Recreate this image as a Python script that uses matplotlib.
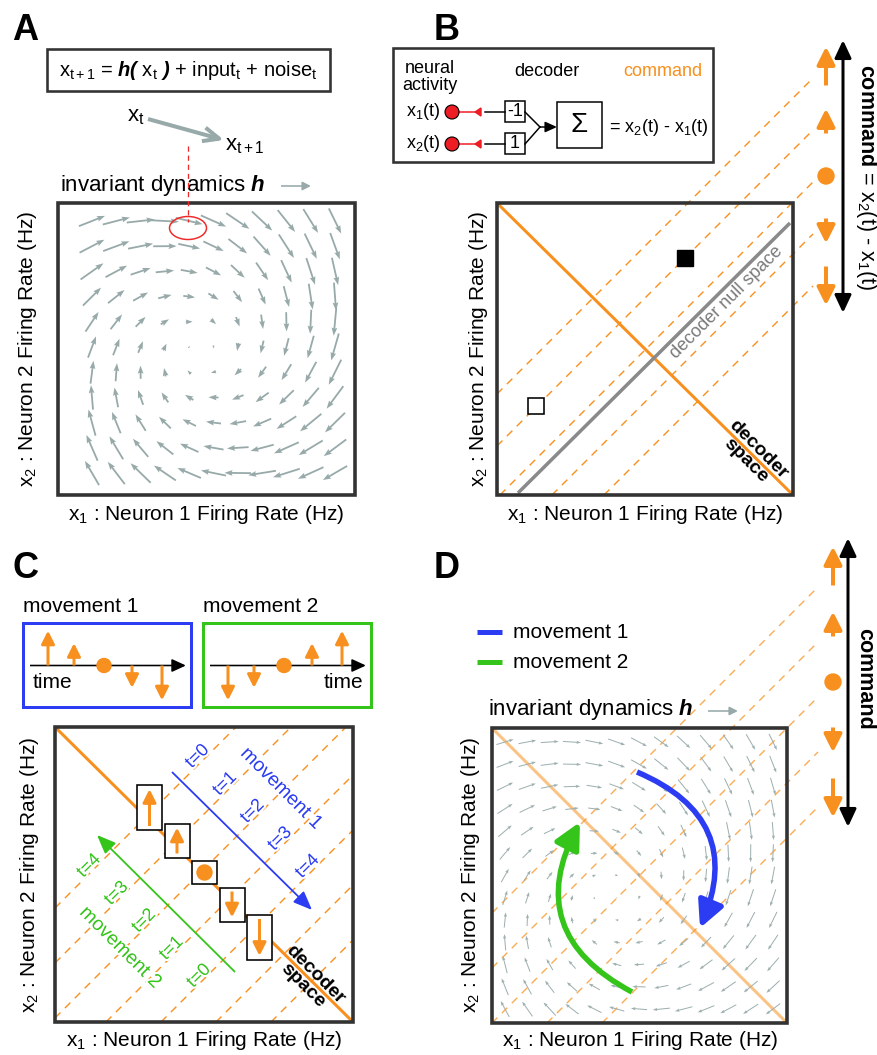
import numpy as np
import matplotlib.pyplot as plt
from matplotlib.patches import Rectangle, Circle, Ellipse, FancyArrowPatch, Polygon
import matplotlib.patheffects as pe

plt.rcParams['font.family'] = ['Liberation Sans', 'DejaVu Sans']
plt.rcParams['mathtext.fontset'] = 'custom'
plt.rcParams['mathtext.rm'] = 'Liberation Sans'
plt.rcParams['mathtext.it'] = 'Liberation Sans:italic'
plt.rcParams['mathtext.bf'] = 'Liberation Sans:bold'
plt.rcParams['mathtext.bfit'] = 'Liberation Sans:italic:bold'

ORANGE = '#f7901e'
BLUE = '#2b3cf2'
GREEN = '#34c41a'
FIELD = '#97a9a9'
FRAME = '#333333'

# ---- chart data ----
command_levels = [2, 1, 0, -1, -2]          # decoded command shown on the right
move1_commands = [2, 1, 0, -1, -2]          # movement 1, t = 0..4
move2_commands = [-2, -1, 0, 1, 2]          # movement 2, t = 0..4
time_steps = [0, 1, 2, 3, 4]
decoder_weights = ['-1', '1']
neuron_labels = ['x$_1$(t)', 'x$_2$(t)']
c_extra_levels = [-3, -4]                   # additional iso-command lines in panel C
spiral_angle = 18                           # inward turn of the dynamics (deg)

XLAB = 'x$_1$ : Neuron 1 Firing Rate (Hz)'
YLAB = 'x$_2$ : Neuron 2 Firing Rate (Hz)'

fig = plt.figure(figsize=(8.77, 10.55), dpi=100)
ax = fig.add_axes([0, 0, 1, 1])
ax.set_xlim(0, 877)
ax.set_ylim(1055, 0)
ax.axis('off')

PT = 0.72  # pixels -> points


def arrow(p0, p1, color, lw, hl, hw, style='-|>', z=4, rad=None):
    st = f'{style},head_length={hl * PT},head_width={hw * PT / 2}'
    kw = dict(arrowstyle=st, mutation_scale=1, color=color, lw=lw * PT,
              shrinkA=0, shrinkB=0, zorder=z, capstyle='butt')
    if rad is not None:
        kw['connectionstyle'] = f'arc3,rad={rad}'
    ax.add_patch(FancyArrowPatch(p0, p1, **kw))


def frame(L, T, R, B, lw=3.6, color=FRAME, z=5, fc='none'):
    ax.add_patch(Rectangle((L, T), R - L, B - T, fill=(fc != 'none'), fc=fc,
                           ec=color, lw=lw * PT, zorder=z))


def h(X, Y, center, gain, cap):
    # invariant dynamics: clockwise rotation with a slight inward turn
    dx, dy = X - center[0], Y - center[1]
    a = np.deg2rad(spiral_angle)
    U = gain * (-dy * np.cos(a) - dx * np.sin(a))
    V = gain * (dx * np.cos(a) - dy * np.sin(a))
    sp = np.hypot(U, V)
    k = np.minimum(1.0, cap / np.maximum(sp, 1e-9))
    return U * k, V * k


def field(xs, ys, center, gain, cap, width, color):
    X, Y = np.meshgrid(xs, ys)
    U, V = h(X, Y, center, gain, cap)
    ax.quiver(X, Y, U, V, angles='xy', scale_units='xy', scale=1, pivot='mid',
              units='xy', width=width, headwidth=3.2, headlength=4.5,
              headaxislength=4.0, color=color, zorder=3)


def iso_line(c, box, x_end=None):
    L, T, R, B = box
    xa = max(L, c - B)
    xb = min(R, c - T) if x_end is None else x_end
    return [xa, xb], [c - xa, c - xb]


def dashed(xs, ys, color=ORANGE, alpha=1.0, z=2):
    ax.plot(xs, ys, color=color, lw=1.4 * PT, alpha=alpha,
            dashes=(5.5, 4.5), zorder=z)


def cmd_column(x, y_mid, step, ax_x, ax_top, ax_bot):
    for lev in command_levels:
        yc = y_mid - step * lev
        if lev == 0:
            ax.add_patch(Circle((x, yc), 8, color=ORANGE, zorder=5))
            continue
        ln = 11 + 14 * abs(lev)
        s = 1 if lev > 0 else -1
        arrow((x, yc + s * ln / 2), (x, yc - s * ln / 2), ORANGE, 4, 15, 15)
    arrow((ax_x, ax_bot), (ax_x, ax_top), 'black', 3, 15, 14, style='<|-|>')


# =====================================================================
# Panel A
# =====================================================================
ax.text(25, 30, 'A', fontsize=26, fontweight='bold', ha='center', va='center')
frame(47, 49, 330, 91, lw=2.6)
ax.text(188, 70, r'x$_\mathrm{t+1}$ = $\mathbfit{h(}$ x$_\mathrm{t}$ $\mathbfit{)}$ + input$_\mathrm{t}$ + noise$_\mathrm{t}$',
        fontsize=14.5, ha='center', va='center')
ax.text(136, 117, r'x$_\mathrm{t}$', fontsize=16, ha='center', va='center')
ax.text(245, 146, r'x$_\mathrm{t+1}$', fontsize=16, ha='center', va='center')
arrow((148, 119), (224, 140), FIELD, 4, 16, 14, style='->')
ax.plot([188, 188], [146, 222], color='#ee2b2b', lw=1.3 * PT, dashes=(4, 3), zorder=6)
ax.text(60, 185, r'invariant dynamics $\mathbfit{h}$', fontsize=16, ha='left', va='center')
arrow((281, 186), (311, 186), FIELD, 1.6, 7, 7)

A_box = (58, 203, 355, 495)
frame(*A_box)
field(np.linspace(92, 335, 11), np.linspace(221, 473, 11), (200, 352), 0.21, 28, 1.8, FIELD)
ax.add_patch(Ellipse((188, 228), 37, 23, fill=False, ec='#ee2b2b', lw=1.5 * PT, zorder=6))
ax.text(206, 514, XLAB, fontsize=15, ha='center', va='center')
ax.text(28, 349, YLAB, fontsize=15, ha='center', va='center', rotation=90)

# =====================================================================
# Panel B
# =====================================================================
ax.text(447, 30, 'B', fontsize=26, fontweight='bold', ha='center', va='center')
frame(393, 48, 713, 162, lw=2.6)
ax.text(430, 77, 'neural\nactivity', fontsize=13, ha='center', va='center', linespacing=1.0)
ax.text(547, 71, 'decoder', fontsize=13, ha='center', va='center')
ax.text(663, 71, 'command', fontsize=13, ha='center', va='center', color=ORANGE)
for i, (lab, w) in enumerate(zip(neuron_labels, decoder_weights)):
    y = 112 + 32 * i
    ax.text(441, y, lab, fontsize=13, ha='right', va='center')
    ax.add_patch(Circle((452, y), 7, fc='#ee1c24', ec='black', lw=0.8, zorder=5))
    ax.plot([459, 478], [y, y], color='#ee1c24', lw=1.5 * PT, zorder=4)
    ax.add_patch(Polygon([(475, y), (481, y - 4), (481, y + 4)], color='#ee1c24', zorder=5))
    ax.plot([485, 505], [y, y], color='black', lw=1.5 * PT, zorder=4)
    frame(505, y - 11, 525, y + 10, lw=1.5, color='black')
    ax.text(515, y, w, fontsize=13, ha='center', va='center')
    ax.plot([525, 540], [y, 127], color='black', lw=1.5 * PT, zorder=4)
arrow((539, 127), (557, 127), 'black', 1.5, 10, 9)
frame(557, 102, 602, 148, lw=1.5, color='black')
ax.text(579.5, 125, r'$\Sigma$', fontsize=20, ha='center', va='center')
ax.text(609, 127, '= x$_2$(t) - x$_1$(t)', fontsize=13, ha='left', va='center')

B_box = (497, 203, 793, 495)
for lev in command_levels:
    xs, ys = iso_line(995 - 52 * lev, B_box, x_end=813)
    dashed(xs, ys)
ax.plot([497, 793], [203, 495], color=ORANGE, lw=3 * PT, zorder=3, solid_capstyle='butt')
ax.plot([518, 790], [493, 223], color='#8a8a8a', lw=3.5 * PT, zorder=3, solid_capstyle='butt')
ax.add_patch(Rectangle((677, 250), 16, 16, color='black', zorder=5))
ax.add_patch(Rectangle((528, 398), 16, 16, fc='white', ec='black', lw=1.6 * PT, zorder=5))
frame(*B_box)
ax.text(727, 302, 'decoder null space', fontsize=13, color='#7a7a7a', rotation=45,
        ha='center', va='center', rotation_mode='anchor')
ax.text(752, 455, 'decoder\nspace', fontsize=14, fontweight='bold', rotation=-45,
        ha='center', va='center', rotation_mode='anchor', linespacing=0.95)
cmd_column(826, 176, 55, 843, 40, 313)
ax.text(866, 177, r'$\mathbf{command}$ = x$_2$(t) - x$_1$(t)', fontsize=15.5,
        rotation=-90, ha='center', va='center')
ax.text(645, 514, XLAB, fontsize=15, ha='center', va='center')
ax.text(478, 349, YLAB, fontsize=15, ha='center', va='center', rotation=90)

# =====================================================================
# Panel C
# =====================================================================
ax.text(25, 569, 'C', fontsize=26, fontweight='bold', ha='center', va='center')
stem_offsets = [25, 51, 81, 109, 139]
for (L, color, cmds, name, tx, tha) in [(23, BLUE, move1_commands, 'movement 1', 33, 'left'),
                                        (203, GREEN, move2_commands, 'movement 2', 363, 'right')]:
    ax.text(L, 607, name, fontsize=15, ha='left', va='center')
    frame(L, 623, L + 168, 707, lw=3, color=color)
    arrow((L + 7, 665.5), (L + 163, 665.5), 'black', 1.6, 12, 11)
    ax.text(tx, 683, 'time', fontsize=15, ha=tha, va='center')
    for off, cmd in zip(stem_offsets, cmds):
        x = L + off
        if cmd == 0:
            ax.add_patch(Circle((x, 665.5), 7, color=ORANGE, zorder=5))
        else:
            ln = 10 + 12.5 * abs(cmd)
            arrow((x, 665.5), (x, 665.5 - np.sign(cmd) * ln), ORANGE, 3, 11, 11)

C_box = (55, 727, 353, 1022)
for lev in command_levels + c_extra_levels:
    xs, ys = iso_line(1073 - 55 * lev, C_box)
    dashed(xs, ys)
ax.plot([55, 353], [727, 1022], color=ORANGE, lw=3 * PT, zorder=3, solid_capstyle='butt')
for lev in command_levels:
    c = 1073 - 55 * lev
    xi, yi = (c - 672) / 2 + 4, (c + 672) / 2
    hgt = 23 + 11 * abs(lev)
    yc = yi - np.sign(lev) * (hgt - 25) / 2
    frame(xi - 12.5, yc - hgt / 2, xi + 12.5, yc + hgt / 2, lw=1.6, color='black', z=6, fc='white')
    if lev == 0:
        ax.add_patch(Circle((xi, yc), 7.5, color=ORANGE, zorder=7))
    else:
        s = np.sign(lev)
        arrow((xi, yc + s * (hgt / 2 - 4)), (xi, yc - s * (hgt / 2 - 4)), ORANGE, 3, 11, 11, z=7)

arrow((172, 772), (312, 910), BLUE, 1.8, 16, 13)
arrow((235, 972), (97, 835), GREEN, 1.8, 16, 13)
halo = [pe.withStroke(linewidth=3, foreground='white')]
for t, cmd in zip(time_steps, move1_commands):
    c = 1073 - 55 * cmd
    xi = (c - 600) / 2
    ax.text(xi + 16, xi + 600 - 25, f't={t}', fontsize=13, color=BLUE, rotation=45,
            ha='center', va='center', rotation_mode='anchor', path_effects=halo, zorder=8)
for t, cmd in zip(time_steps, move2_commands):
    c = 1073 - 55 * cmd
    xi = (c - 737) / 2
    ax.text(xi - 24, xi + 737 + 16, f't={t}', fontsize=13, color=GREEN, rotation=45,
            ha='center', va='center', rotation_mode='anchor', path_effects=halo, zorder=8)
ax.text(281, 789, 'movement 1', fontsize=14, color=BLUE, rotation=-45,
        ha='center', va='center', rotation_mode='anchor', path_effects=halo, zorder=8)
ax.text(120, 948, 'movement 2', fontsize=14, color=GREEN, rotation=-45,
        ha='center', va='center', rotation_mode='anchor', path_effects=halo, zorder=8)
ax.text(309, 980, 'decoder\nspace', fontsize=14, fontweight='bold', rotation=-45,
        ha='center', va='center', rotation_mode='anchor', linespacing=0.95, zorder=8)
frame(*C_box, z=9)
ax.text(204, 1041, XLAB, fontsize=15, ha='center', va='center')
ax.text(30, 875, YLAB, fontsize=15, ha='center', va='center', rotation=90)

# =====================================================================
# Panel D
# =====================================================================
ax.text(447, 569, 'D', fontsize=26, fontweight='bold', ha='center', va='center')
for y, color, name in [(632, BLUE, 'movement 1'), (662, GREEN, 'movement 2')]:
    ax.plot([477, 502], [y, y], color=color, lw=5 * PT, solid_capstyle='butt')
    ax.text(513, y, name, fontsize=15, ha='left', va='center')
ax.text(488, 710, r'invariant dynamics $\mathbfit{h}$', fontsize=16, ha='left', va='center')
arrow((708, 711), (738, 711), FIELD, 1.6, 7, 7)

D_box = (492, 728, 787, 1023)
for lev in command_levels:
    xs, ys = iso_line(1515 - 55 * lev, D_box, x_end=818)
    dashed(xs, ys, alpha=0.75)
ax.plot([492, 787], [728, 1023], color=ORANGE, alpha=0.55, lw=3 * PT, zorder=2, solid_capstyle='butt')
field(np.linspace(505, 773, 13), np.linspace(742, 1009, 13), (612, 897), 0.14, 18, 1.0, '#9eafaf')
arrow((637, 772), (700, 928), BLUE, 5.5, 22, 22, rad=-0.5, z=6)
arrow((632, 992), (580, 822), GREEN, 5.5, 22, 22, rad=-0.5, z=6)
frame(*D_box, z=9)
cmd_column(833, 682, 58, 848, 538, 827)
ax.text(865, 679, 'command', fontsize=15.5, fontweight='bold', rotation=-90,
        ha='center', va='center')
ax.text(640, 1041, XLAB, fontsize=15, ha='center', va='center')
ax.text(470, 875, YLAB, fontsize=15, ha='center', va='center', rotation=90)

fig.savefig('out.png', dpi=100)
